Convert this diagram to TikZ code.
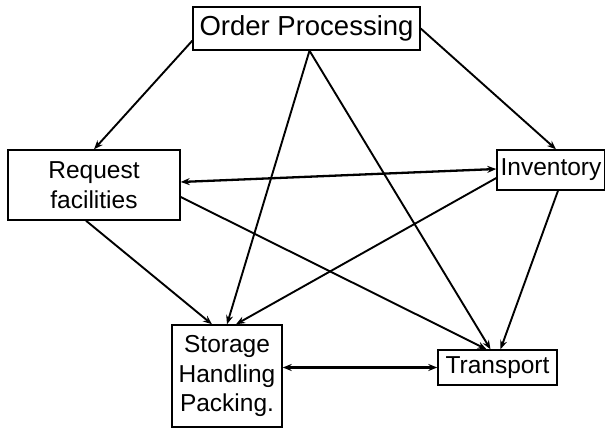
\documentclass[tikz,border=0pt]{standalone}
\usepackage{fontspec}
\setmainfont{Liberation Sans}
\usetikzlibrary{arrows.meta,calc,positioning}
\tikzstyle{bloc}=[draw, line width=1.4pt, align=center, inner sep=0pt, font=\fontsize{24.5}{29.5}\selectfont]
\tikzstyle{fleche}=[-{Stealth[length=9pt,width=7pt]}, line width=1.9pt]
\tikzstyle{dfleche}=[{Stealth[length=9pt,width=7pt]}-{Stealth[length=9pt,width=7pt]}, line width=2.3pt]

\begin{document}
\begin{tikzpicture}[x=1pt,y=1pt]
\useasboundingbox (0,0) rectangle (605,429);

% blocs
\node[bloc, minimum width=227, minimum height=43, font=\fontsize{27.5}{32}\selectfont] (order) at (306.5,400.5) {Order Processing};
\node[bloc, minimum width=172, minimum height=70] (request) at (94,244) {Request\\facilities};
\node[bloc, minimum width=108, minimum height=40] (inventory) at (551,259) {Inventory};
\node[bloc, minimum width=110, minimum height=102] (storage) at (227,53) {Storage\\Handling\\Packing.};
\node[bloc, minimum width=119, minimum height=35] (transport) at (497.5,61.5) {Transport};

% depuis Order Processing
\draw[fleche] ($(order.south west)+(0,10)$) -- (request.north);
\draw[fleche] (order.east) -- ($(inventory.north)+(5,0)$);
\draw[fleche] ($(order.south)+(3,0)$) -- (storage.north);
\draw[fleche] ($(order.south)+(3,0)$) -- ($(transport.north)+(-7,0)$);

% depuis Request facilities
\draw[dfleche] ($(request.east)+(0,3)$) -- ($(inventory.west)+(0,1)$);
\draw[fleche] ($(request.east)+(0,-12)$) -- ($(transport.north)+(-11,0)$);
\draw[fleche] ($(request.south)+(-8,0)$) -- ($(storage.north)+(-15,0)$);

% depuis Inventory
\draw[fleche] ($(inventory.west)+(0,-8)$) -- ($(storage.north)+(9,0)$);
\draw[fleche] ($(inventory.south)+(7,0)$) -- ($(transport.north)+(3,0)$);

% Storage <-> Transport
\draw[dfleche] (storage.east |- transport.west) -- (transport.west);

\end{tikzpicture}
\end{document}
